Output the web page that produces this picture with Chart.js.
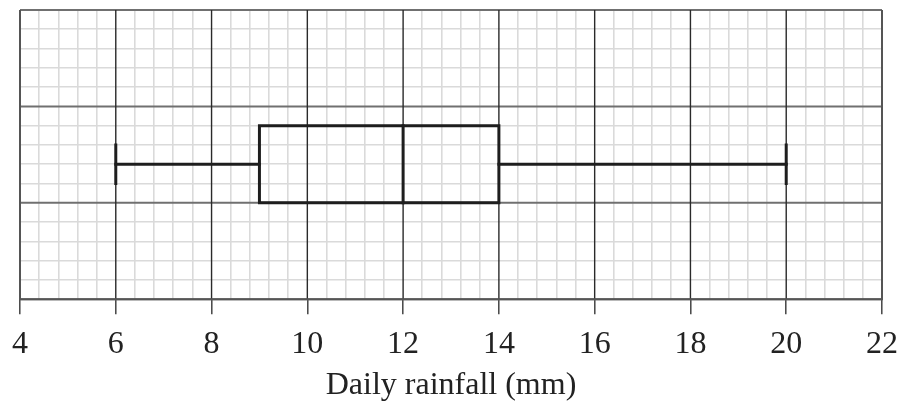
<!DOCTYPE html>
<html>
<head>
<meta charset="utf-8">
<script src="https://cdn.jsdelivr.net/npm/chart.js@4"></script>
<style>
  body { margin: 0; background: #fff; }
</style>
</head>
<body>
<canvas id="plot" width="904" height="405"></canvas>
<script>
// five-number summary
const summaryLabels = ['Minimum', 'Lower quartile', 'Median', 'Upper quartile', 'Maximum'];
const summaryValues = [6, 9, 12, 14, 20];
const xTickLabels = [4, 6, 8, 10, 12, 14, 16, 18, 20, 22];
const yMajorLines = [0, 5, 10, 15];
const axisTitle = 'Daily rainfall (mm)';

let [minV, q1, med, q3, maxV] = summaryValues;

// vertical placement of the box on the grid (in grid squares)
let boxLow = 5, boxHigh = 9, midY = 7, capLow = 6, capHigh = 8;

let ink = '#1e1e1e';
function seg(points, w) {
    return {
        data: points,
        showLine: true,
        borderColor: ink,
        borderWidth: w,
        pointRadius: 0,
        fill: false,
        borderCapStyle: 'square',
        borderJoinStyle: 'miter'
    };
}

let datasets = [
    seg([{x: q1, y: boxLow}, {x: q3, y: boxLow}, {x: q3, y: boxHigh}, {x: q1, y: boxHigh}, {x: q1, y: boxLow}], 3),
    seg([{x: med, y: boxLow}, {x: med, y: boxHigh}], 3),
    seg([{x: minV, y: midY}, {x: q1, y: midY}], 3),
    seg([{x: q3, y: midY}, {x: maxV, y: midY}], 3),
    seg([{x: minV, y: capLow}, {x: minV, y: capHigh}], 3),
    seg([{x: maxV, y: capLow}, {x: maxV, y: capHigh}], 3)
];

function isMajorX(v) {
    let r = Math.round(v);
    return Math.abs(v - r) < 1e-6 && xTickLabels.includes(r);
}

// heavy grid lines go on top of the light ones, under the box
const majorGrid = {
    id: 'majorGrid',
    beforeDatasetsDraw(chart) {
        let ctx = chart.ctx, a = chart.chartArea;
        let xs = chart.scales.x, ys = chart.scales.y;
        ctx.save();
        ctx.strokeStyle = '#707070';
        ctx.lineWidth = 2;
        yMajorLines.forEach(v => {
            let p = ys.getPixelForValue(v);
            ctx.beginPath();
            ctx.moveTo(a.left, p);
            ctx.lineTo(a.right, p);
            ctx.stroke();
        });
        ctx.strokeStyle = '#2a2a2a';
        ctx.lineWidth = 1.4;
        xTickLabels.forEach(v => {
            let p = xs.getPixelForValue(v);
            ctx.beginPath();
            ctx.moveTo(p, a.top);
            ctx.lineTo(p, a.bottom);
            ctx.stroke();
        });
        // frame
        ctx.strokeStyle = '#555';
        ctx.lineWidth = 2;
        ctx.beginPath();
        ctx.moveTo(a.left, a.top);
        ctx.lineTo(a.left, a.bottom);
        ctx.lineTo(a.right, a.bottom);
        ctx.lineTo(a.right, a.top);
        ctx.stroke();
        ctx.restore();
    }
};

let serif = '"Liberation Serif", "Times New Roman", serif';

new Chart(document.getElementById('plot'), {
    type: 'scatter',
    data: { datasets: datasets },
    plugins: [majorGrid],
    options: {
        responsive: false,
        animation: false,
        devicePixelRatio: 1,
        layout: { padding: { left: 20, right: 22, top: 10, bottom: 0 } },
        plugins: { legend: { display: false }, tooltip: { enabled: false } },
        scales: {
            x: {
                type: 'linear',
                min: xTickLabels[0],
                max: xTickLabels[xTickLabels.length - 1],
                afterBuildTicks: function (scale) {
                    let t = [];
                    for (let i = 0; i <= 45; i++) {
                        t.push({ value: Math.round((4 + i * 0.4) * 1000) / 1000 });
                    }
                    scale.ticks = t;
                },
                afterFit: function (scale) {
                    // let the layout padding decide the side margins
                    scale.paddingLeft = 0;
                    scale.paddingRight = 0;
                },
                grid: {
                    color: c => isMajorX(c.tick.value) ? 'rgba(0,0,0,0)' : '#dadada',
                    lineWidth: 1.6,
                    tickLength: 15,
                    tickColor: c => isMajorX(c.tick.value) ? '#444' : 'rgba(0,0,0,0)',
                    tickWidth: 1.5
                },
                border: { display: false },
                ticks: {
                    autoSkip: false,
                    maxRotation: 0,
                    padding: 11,
                    color: '#222',
                    font: { family: serif, size: 32 },
                    callback: v => isMajorX(v) ? String(Math.round(v)) : ''
                },
                title: {
                    display: true,
                    text: axisTitle,
                    color: '#222',
                    font: { family: serif, size: 32 },
                    padding: { top: -8, bottom: 0 }
                }
            },
            y: {
                min: 0,
                max: 15,
                ticks: { display: false, stepSize: 1 },
                grid: {
                    drawTicks: false,
                    color: c => c.tick.value % 5 === 0 ? 'rgba(0,0,0,0)' : '#dadada',
                    lineWidth: 1.6
                },
                border: { display: false }
            }
        }
    }
});
</script>
</body>
</html>
